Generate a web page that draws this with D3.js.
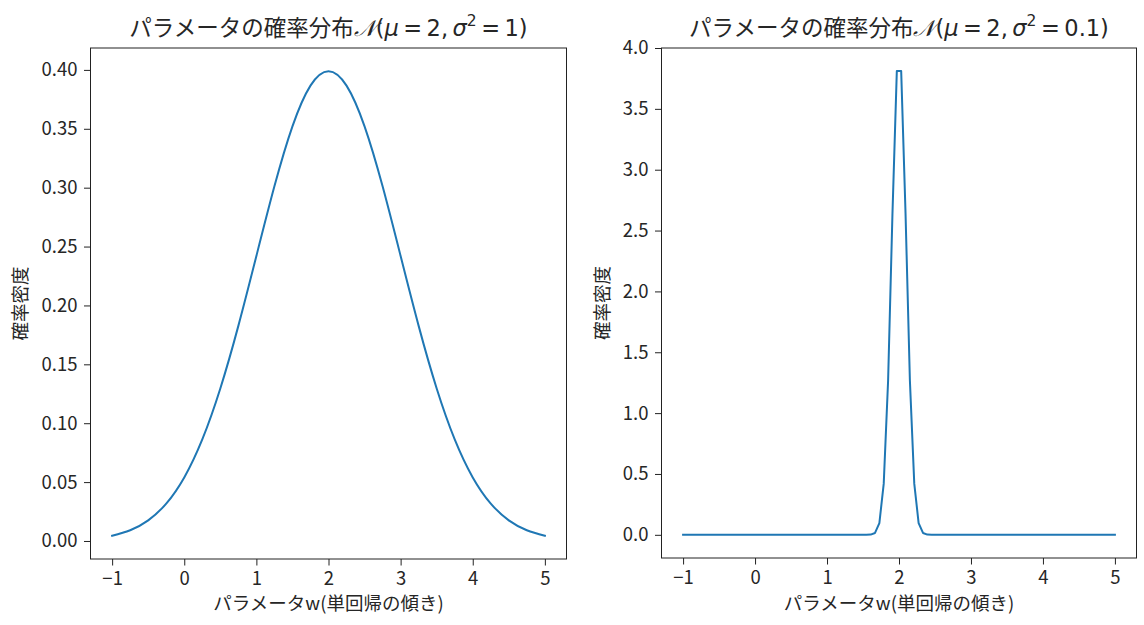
<!DOCTYPE html>
<html><head><meta charset="utf-8">
<script src="https://cdn.jsdelivr.net/npm/d3@7"></script>
<style>
body{margin:0;background:#fff;}
text{font-family:"Noto Sans CJK JP","DejaVu Sans",sans-serif;fill:#262626;}
</style></head>
<body><svg id="c" width="1144" height="625"></svg>
<script>
// Left panel: N(2, 1)
const leftX = [-1,-0.75,-0.5,-0.25,0,0.25,0.5,0.75,1,1.25,1.5,1.75,2,2.25,2.5,2.75,3,3.25,3.5,3.75,4,4.25,4.5,4.75,5];
const leftY = [0.00443,0.00909,0.01753,0.03174,0.05399,0.08628,0.12952,0.18265,0.24197,0.30114,0.35207,0.38667,0.39894,0.38667,0.35207,0.30114,0.24197,0.18265,0.12952,0.08628,0.05399,0.03174,0.01753,0.00909,0.00443];
// Right panel: N(2, 0.1)
const rightX = [-1,1.5455,1.6061,1.6667,1.7273,1.7879,1.8485,1.9091,1.9697,2.0303,2.0909,2.1515,2.2121,2.2727,2.3333,2.3939,2.4545,5];
const rightY = [0,0.0001,0.0017,0.0154,0.0968,0.4205,1.2657,2.639,3.810,3.810,2.639,1.2657,0.4205,0.0968,0.0154,0.0017,0.0001,0];
const xTicks = [-1,0,1,2,3,4,5];
const leftYTicks = [0,0.05,0.10,0.15,0.20,0.25,0.30,0.35,0.40];
const rightYTicks = [0,0.5,1.0,1.5,2.0,2.5,3.0,3.5,4.0];
const xLabel = "パラメータw(単回帰の傾き)";
const yLabel = "確率密度";
const titles = [{pre:"パラメータの確率分布", s2:"1"},{pre:"パラメータの確率分布", s2:"0.1"}];

const svg = d3.select("#c");
const panels = [
  {x0:90.5, x1:566.5, y0:48, y1:559, X:leftX, Y:leftY, ydom:[-0.0153,0.4186], yt:leftYTicks, fmt:d3.format(".2f"), t:titles[0], ylx:27},
  {x0:661.5, x1:1136.5, y0:48, y1:558, X:rightX, Y:rightY, ydom:[-0.1905,4.0], yt:rightYTicks, fmt:d3.format(".1f"), t:titles[1], ylx:609}
];
panels.forEach((p,i)=>{
  const x = d3.scaleLinear().domain([-1.3,5.3]).range([p.x0,p.x1]);
  const y = d3.scaleLinear().domain(p.ydom).range([p.y1,p.y0]);
  const g = svg.append("g");
  const line = d3.line().x((d,k)=>x(p.X[k])).y(d=>y(d)).curve(i===0?d3.curveNatural:d3.curveLinear);
  g.append("path").datum(p.Y).attr("d",line).attr("fill","none").attr("stroke","#1f77b4").attr("stroke-width",2).attr("stroke-linejoin","round").attr("stroke-linecap","square");
  const xa = g.append("g").attr("transform",`translate(0,${p.y1})`).call(d3.axisBottom(x).tickValues(xTicks).tickSize(6.5).tickPadding(6).tickFormat(d=>d<0?"−"+Math.abs(d):d));
  const ya = g.append("g").attr("transform",`translate(${p.x0},0)`).call(d3.axisLeft(y).tickValues(p.yt).tickSize(6.5).tickPadding(6.5).tickFormat(p.fmt));
  [xa,ya].forEach(a=>{a.select(".domain").remove(); a.selectAll("line").attr("stroke","#222").attr("stroke-width",1); a.selectAll("text").attr("font-size",18.5).attr("fill","#262626").attr("font-family","\"Noto Sans CJK JP\",sans-serif");});
  g.append("rect").attr("x",p.x0).attr("y",p.y0).attr("width",p.x1-p.x0).attr("height",p.y1-p.y0).attr("fill","none").attr("stroke","#222").attr("stroke-width",1);
  g.append("text").attr("x",(p.x0+p.x1)/2).attr("y",610).attr("text-anchor","middle").attr("font-size",18.5).text(xLabel);
  g.append("text").attr("transform",`translate(${p.ylx},${(p.y0+p.y1)/2}) rotate(-90)`).attr("text-anchor","middle").attr("font-size",18.5).text(yLabel);
  const tt = g.append("text").attr("x",(p.x0+p.x1)/2).attr("y",36).attr("text-anchor","middle").attr("font-size",22.5);
  tt.append("tspan").text(p.t.pre);
  tt.append("tspan").attr("font-family","DejaVu Serif").attr("font-style","italic").text("𝒩");
  tt.append("tspan").attr("font-family","DejaVu Sans").text("(");
  tt.append("tspan").attr("font-family","DejaVu Sans").attr("font-style","italic").text("μ");
  tt.append("tspan").attr("font-family","DejaVu Sans").text("\u2009=\u20092,\u2009");
  tt.append("tspan").attr("font-family","DejaVu Sans").attr("font-style","italic").text("σ");
  tt.append("tspan").attr("font-family","DejaVu Sans").attr("font-size",15.5).attr("dy",-10).text("2");
  tt.append("tspan").attr("font-family","DejaVu Sans").attr("dy",10).text("\u2009=\u2009"+p.t.s2+")");
});
</script></body></html>
